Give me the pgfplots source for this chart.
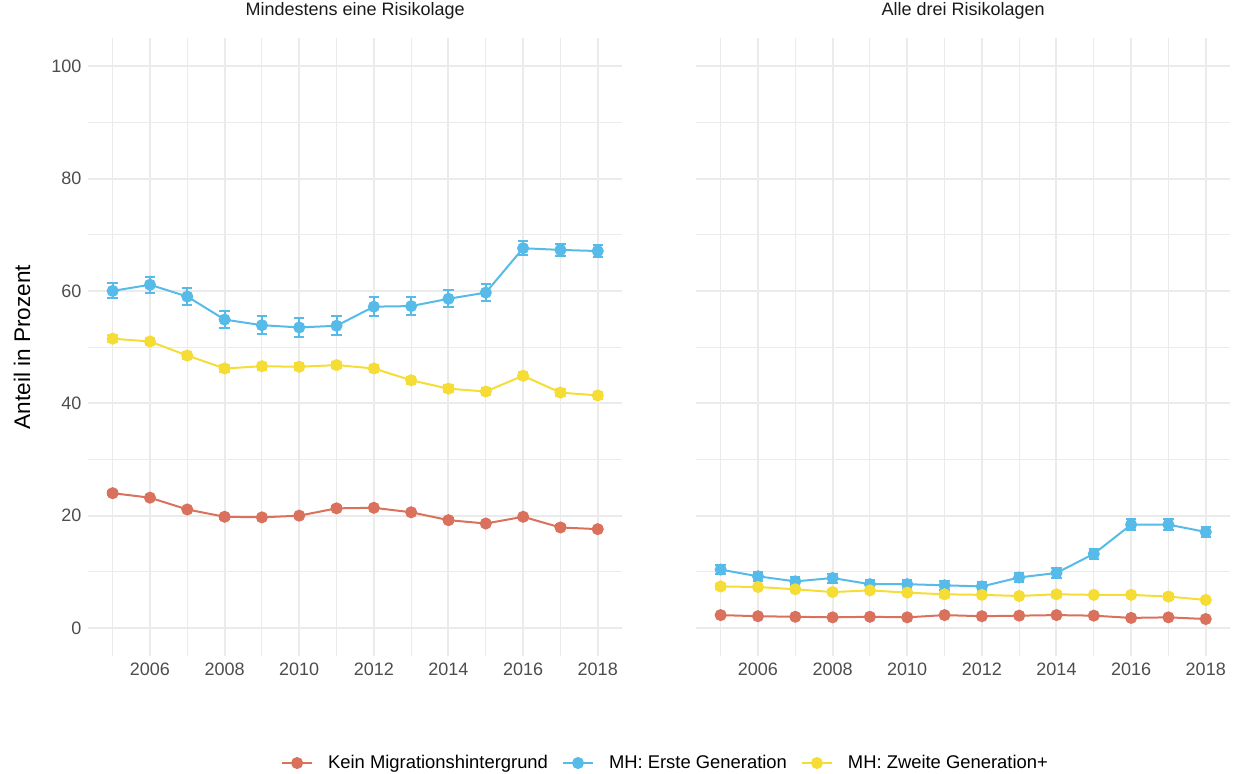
\documentclass[border=0pt]{standalone}
\usepackage{pgfplots}
\pgfplotsset{compat=1.18}
\usepackage{pgfplotstable}
\usepackage{fontspec}
\setmainfont{Liberation Sans}
\definecolor{cred}{RGB}{218,113,93}
\definecolor{cblue}{RGB}{86,187,232}
\definecolor{cyellow}{RGB}{245,221,53}
\definecolor{gridc}{RGB}{235,235,235}
\definecolor{tickc}{RGB}{77,77,77}
\definecolor{stripc}{RGB}{26,26,26}

\pgfplotstableread{
x y e
2005 24.0 0.35
2006 23.2 0.35
2007 21.1 0.35
2008 19.8 0.35
2009 19.7 0.35
2010 20.0 0.35
2011 21.3 0.35
2012 21.4 0.35
2013 20.6 0.35
2014 19.2 0.35
2015 18.6 0.35
2016 19.8 0.35
2017 17.9 0.35
2018 17.6 0.35
}\Lred
\pgfplotstableread{
x y e
2005 60.0 1.33
2006 61.1 1.40
2007 59.0 1.45
2008 54.9 1.57
2009 53.9 1.60
2010 53.5 1.66
2011 53.8 1.72
2012 57.2 1.69
2013 57.3 1.63
2014 58.6 1.54
2015 59.7 1.50
2016 67.6 1.28
2017 67.3 1.13
2018 67.1 1.13
}\Lblue
\pgfplotstableread{
x y e
2005 51.5 0.60
2006 51.0 0.60
2007 48.5 0.60
2008 46.2 0.60
2009 46.6 0.60
2010 46.5 0.60
2011 46.8 0.60
2012 46.2 0.60
2013 44.1 0.60
2014 42.6 0.60
2015 42.1 0.60
2016 44.9 0.60
2017 41.9 0.60
2018 41.4 0.60
}\Lyellow
\pgfplotstableread{
x y e
2005 2.3 0.2
2006 2.1 0.2
2007 2.0 0.2
2008 1.9 0.2
2009 2.0 0.2
2010 1.9 0.2
2011 2.3 0.2
2012 2.1 0.2
2013 2.2 0.2
2014 2.3 0.2
2015 2.2 0.2
2016 1.8 0.2
2017 1.9 0.2
2018 1.6 0.2
}\Rred
\pgfplotstableread{
x y e
2005 10.4 0.83
2006 9.2 0.80
2007 8.3 0.72
2008 8.9 0.80
2009 7.8 0.80
2010 7.8 0.80
2011 7.6 0.80
2012 7.4 0.85
2013 9.0 0.88
2014 9.8 0.90
2015 13.2 0.95
2016 18.4 0.95
2017 18.4 0.95
2018 17.1 0.90
}\Rblue
\pgfplotstableread{
x y e
2005 7.4 0.4
2006 7.3 0.4
2007 6.9 0.4
2008 6.4 0.4
2009 6.7 0.4
2010 6.3 0.4
2011 6.0 0.4
2012 5.9 0.4
2013 5.7 0.4
2014 6.0 0.4
2015 5.9 0.4
2016 5.9 0.4
2017 5.6 0.4
2018 5.0 0.4
}\Ryellow

\pgfplotsset{
  panel/.style={
    scale only axis, width=266.8pt, height=309pt,
    xmin=2004.35, xmax=2018.65, ymin=-5, ymax=105,
    axis line style={draw=none},
    major tick length=0pt, minor tick length=0pt,
    xtick={2006,2008,...,2018}, minor xtick={2005,2007,...,2017},
    ytick={0,20,...,100}, minor ytick={10,30,...,90},
    grid=both,
    major grid style={color=gridc, line width=1pt},
    minor grid style={color=gridc, line width=0.5pt},
    tick label style={font=\fontsize{9}{10}\selectfont, color=tickc},
    /pgf/number format/assume math mode=true,
    x tick label style={/pgf/number format/1000 sep={}},
    title style={font=\fontsize{9}{10}\selectfont, color=stripc, at={(0.5,1)}, anchor=base, yshift=5.5pt},
    clip=false,
  },
  ser/.style={line width=1pt, mark=*, mark size=2.5pt, mark options={solid},
    error bars/.cd, y dir=both, y explicit,
    error bar style={line width=1pt},
    error mark=|,
    error mark options={line width=1pt, mark size=2.6pt}},
}

\begin{document}
\begin{tikzpicture}
\path[use as bounding box] (0,0) rectangle (620.5pt,386.5pt);
\begin{axis}[panel, at={(44.2pt,58.45pt)}, anchor=south west,
  title={Mindestens eine Risikolage},
  legend style={at={(1.0834,-0.173)}, anchor=center, draw=none, fill=none,
    legend columns=3, font=\fontsize{9.2}{10}\selectfont,
    /tikz/every odd column/.append style={column sep=5.5pt},
    /tikz/every even column/.append style={column sep=5pt}},
  legend image code/.code={\draw[mark repeat=2,mark phase=2] plot coordinates {(0pt,0pt)(7.5pt,0pt)(15pt,0pt)};},
]
\addplot[color=cred, ser] table[x=x,y=y,y error=e]{\Lred};
\addlegendentry{Kein Migrationshintergrund}
\addplot[color=cblue, ser] table[x=x,y=y,y error=e]{\Lblue};
\addlegendentry{MH: Erste Generation}
\addplot[color=cyellow, ser] table[x=x,y=y,y error=e]{\Lyellow};
\addlegendentry{MH: Zweite Generation+}
\end{axis}
\begin{axis}[panel, at={(348.2pt,58.45pt)}, anchor=south west,
  title={Alle drei Risikolagen}, yticklabels={}]
\addplot[color=cred, ser] table[x=x,y=y,y error=e]{\Rred};
\addplot[color=cblue, ser] table[x=x,y=y,y error=e]{\Rblue};
\addplot[color=cyellow, ser] table[x=x,y=y,y error=e]{\Ryellow};
\end{axis}
\node[rotate=90, font=\fontsize{11.3}{12}\selectfont, color=black] at (11pt,213pt) {Anteil in Prozent};
\end{tikzpicture}
\end{document}
